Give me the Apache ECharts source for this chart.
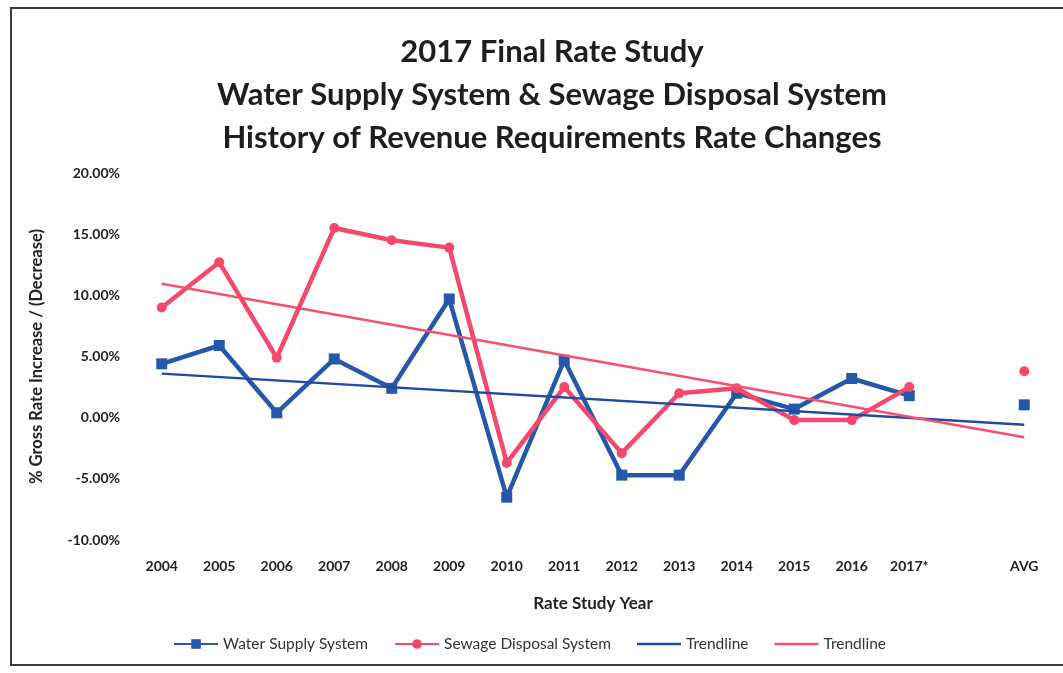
<!DOCTYPE html>
<html>
<head>
<meta charset="utf-8">
<script src="https://cdn.jsdelivr.net/npm/echarts@6/dist/echarts.min.js"></script>
<style>
  html, body { margin: 0; padding: 0; background: #fff; }
  #chart { width: 1063px; height: 673px; position: absolute; left: 0; top: 0; }
  #frame { position: absolute; left: 10px; top: 7px; width: 1100px; height: 659px;
           border: 2px solid #3a3a3a; pointer-events: none; box-sizing: border-box; }
</style>
</head>
<body>
<div id="chart"></div>
<div id="frame"></div>
<script>
const titleLines = ['2017 Final Rate Study', 'Water Supply System & Sewage Disposal System', 'History of Revenue Requirements Rate Changes'];
const categories = ['2004','2005','2006','2007','2008','2009','2010','2011','2012','2013','2014','2015','2016','2017*','','AVG'];
const waterSupply = [4.4, 5.9, 0.4, 4.8, 2.4, 9.7, -6.5, 4.7, -4.7, -4.7, 2.0, 0.7, 3.2, 1.8, null, 1.05];
const sewageDisposal = [9.0, 12.7, 4.9, 15.5, 14.5, 13.9, -3.7, 2.5, -2.9, 2.0, 2.4, -0.2, -0.2, 2.5, null, 3.8];
const waterTrendEnds = [3.6, -0.57];
const sewageTrendEnds = [10.95, -1.6];
const yTicks = { min: -10, max: 20, interval: 5 };

function trendData(ends) {
  return categories.map((c, i) => i === 0 ? ends[0] : (i === categories.length - 1 ? ends[1] : null));
}

const FONT = 'Lato';
const lineIcon = 'path://M0,0 L0.01,0 L0,0.01 Z M0,12 L0.01,12 L0,11.99 Z M0,4.75 L44,4.75 L44,7.25 L0,7.25 Z';
const chart = echarts.init(document.getElementById('chart'), null, { renderer: 'canvas' });
chart.setOption({
  backgroundColor: '#fff',
  animation: false,
  textStyle: { fontFamily: FONT },
  title: {
    text: titleLines.join('\n'),
    left: 547,
    textAlign: 'center',
    top: 25,
    textStyle: { fontFamily: FONT, fontWeight: 'bold', fontSize: 31, lineHeight: 43, color: '#1e1e1e' }
  },
  legend: {
    bottom: 16,
    left: 'center',
    itemGap: 26,
    itemWidth: 44,
    itemHeight: 12,
    textStyle: { fontFamily: FONT, fontSize: 15.5, color: '#333' },
    data: [
      'Water Supply System',
      'Sewage Disposal System',
      { name: 'Trendline', icon: lineIcon },
      { name: 'Trendline ', icon: lineIcon }
    ]
  },
  grid: { left: 133, right: 10, top: 173, bottom: 133 },
  xAxis: {
    type: 'category',
    data: categories,
    boundaryGap: true,
    name: 'Rate Study Year',
    nameLocation: 'middle',
    nameGap: 55,
    nameTextStyle: { fontFamily: FONT, fontWeight: 'bold', fontSize: 17, color: '#222' },
    axisLine: { show: false },
    axisTick: { show: false },
    axisLabel: { fontFamily: FONT, fontWeight: 'bold', fontSize: 14, color: '#222', margin: 19, interval: 0 },
    splitLine: { show: false }
  },
  yAxis: {
    type: 'value',
    min: yTicks.min, max: yTicks.max, interval: yTicks.interval,
    name: '% Gross Rate Increase / (Decrease)',
    nameLocation: 'middle',
    nameGap: 88,
    nameTextStyle: { fontFamily: FONT, fontWeight: 'bold', fontSize: 16.5, color: '#222' },
    axisLine: { show: false },
    axisTick: { show: false },
    splitLine: { show: false },
    axisLabel: { fontFamily: FONT, fontWeight: 'bold', fontSize: 14, color: '#222', margin: 13,
                 formatter: v => v.toFixed(2) + '%' }
  },
  series: [
    {
      name: 'Water Supply System', type: 'line', data: waterSupply,
      connectNulls: false, showAllSymbol: true,
      symbol: 'rect', symbolSize: 11,
      lineStyle: { color: '#2558AB', width: 4.5 },
      itemStyle: { color: '#2558AB' },
      z: 3
    },
    {
      name: 'Sewage Disposal System', type: 'line', data: sewageDisposal,
      connectNulls: false, showAllSymbol: true,
      symbol: 'circle', symbolSize: 10,
      lineStyle: { color: '#F6476C', width: 4.5 },
      itemStyle: { color: '#F6476C' },
      z: 4
    },
    {
      name: 'Trendline', type: 'line', data: trendData(waterTrendEnds),
      connectNulls: true, showSymbol: false, symbol: 'none',
      lineStyle: { color: '#1F4A9E', width: 2.5 },
      itemStyle: { color: '#1F4A9E' },
      z: 5
    },
    {
      name: 'Trendline ', type: 'line', data: trendData(sewageTrendEnds),
      connectNulls: true, showSymbol: false, symbol: 'none',
      lineStyle: { color: '#F6506F', width: 2.5 },
      itemStyle: { color: '#F6506F' },
      z: 5
    }
  ]
});
</script>
</body>
</html>
